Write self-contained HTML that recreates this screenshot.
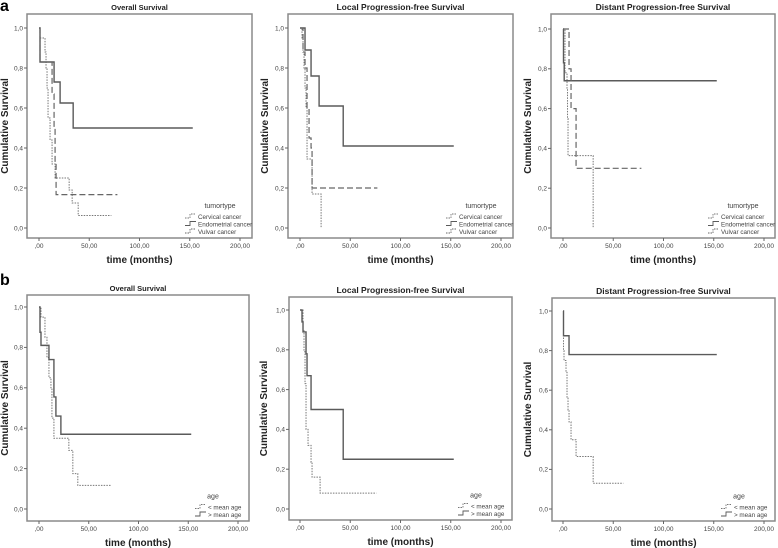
<!DOCTYPE html>
<html><head><meta charset="utf-8">
<style>
html,body{margin:0;padding:0;background:#fff;}
svg{display:block;font-family:"Liberation Sans",Arial,sans-serif;}
</style></head>
<body>
<svg id="fig" width="778" height="548" viewBox="0 0 778 548" xmlns="http://www.w3.org/2000/svg">
<text x="0" y="11" font-size="16" font-weight="bold">a</text>
<text x="0" y="285" font-size="16" font-weight="bold">b</text>
</svg>
<script>
const xTicks = [0, 50, 100, 150, 200];
const xTickLabels = [",00", "50,00", "100,00", "150,00", "200,00"];
const yTicks = [0, 0.2, 0.4, 0.6, 0.8, 1.0];
const yTickLabels = ["0,0", "0,2", "0,4", "0,6", "0,8", "1,0"];

const a1EndoT = [1, 15, 21, 34];
const a1EndoS = [0.83, 0.73, 0.625, 0.5];
const a1EndoEnd = 153;
const a1CervT = [1, 6, 7, 8, 9, 11, 13, 16, 30, 33, 39];
const a1CervS = [0.95, 0.88, 0.8, 0.7, 0.55, 0.44, 0.32, 0.25, 0.19, 0.125, 0.0625];
const a1CervEnd = 72;
const a1VulvT = [1, 13, 15, 16, 17];
const a1VulvS = [0.83, 0.67, 0.5, 0.33, 0.167];
const a1VulvEnd = 78;

const a2EndoT = [5, 11, 19, 43];
const a2EndoS = [0.89, 0.76, 0.61, 0.41];
const a2EndoEnd = 153;
const a2CervT = [2, 3, 4, 5, 6, 7, 12, 21];
const a2CervS = [0.95, 0.88, 0.8, 0.7, 0.6, 0.345, 0.17, 0.0];
const a2CervEnd = 21;
const a2VulvT = [3, 5, 7, 9, 11, 12];
const a2VulvS = [0.88, 0.8, 0.6, 0.45, 0.4, 0.2];
const a2VulvEnd = 77;

const a3EndoT = [0.5, 1.2];
const a3EndoS = [0.83, 0.74];
const a3EndoEnd = 153;
const a3CervT = [2, 4, 4.5, 5, 30];
const a3CervS = [0.78, 0.7, 0.55, 0.364, 0.0];
const a3CervEnd = 30;
const a3VulvT = [6, 8, 13];
const a3VulvS = [0.8, 0.6, 0.3];
const a3VulvEnd = 78;

const b1OldT = [1, 2, 10, 15, 17, 22];
const b1OldS = [0.875, 0.81, 0.74, 0.555, 0.46, 0.37];
const b1OldEnd = 153;
const b1YoungT = [2, 6, 8, 10, 12, 13, 15, 30, 34, 39];
const b1YoungS = [0.95, 0.85, 0.75, 0.65, 0.6, 0.45, 0.35, 0.29, 0.175, 0.117];
const b1YoungEnd = 72;

const b2OldT = [2, 3, 6, 7, 11, 43];
const b2OldS = [0.94, 0.89, 0.78, 0.67, 0.5, 0.25];
const b2OldEnd = 153;
const b2YoungT = [3, 4, 5, 6, 8, 11, 12, 20];
const b2YoungS = [0.9, 0.79, 0.63, 0.4, 0.32, 0.235, 0.16, 0.08];
const b2YoungEnd = 76;

const b3OldT = [0.5, 6];
const b3OldS = [0.875, 0.78];
const b3OldEnd = 153;
const b3YoungT = [0.5, 1, 3, 4, 5, 6, 8, 13, 30];
const b3YoungS = [0.8, 0.75, 0.69, 0.56, 0.5, 0.44, 0.35, 0.265, 0.13];
const b3YoungEnd = 60;

const tumorLegend = ["Cervical cancer", "Endometrial cancer", "Vulvar cancer"];
const ageLegend = ["< mean age", "> mean age"];

const NS = "http://www.w3.org/2000/svg";
const svg = document.getElementById("fig");
function mk(tag, attrs, parent) {
  const e = document.createElementNS(NS, tag);
  for (const k in attrs) e.setAttribute(k, attrs[k]);
  (parent || svg).appendChild(e);
  return e;
}
const STY = {
  solid: {stroke: "#5a5a5a", "stroke-width": 1.4},
  dashed: {stroke: "#666", "stroke-width": 1.2, "stroke-dasharray": "6,3"},
  dotted: {stroke: "#777", "stroke-width": 1, "stroke-dasharray": "1.5,1.2"}
};

function panel(cfg) {
  const g = mk("g", {});
  
  
  const xs = v => cfg.x0 + (cfg.x200 - cfg.x0) * v / 200;
  const ys = v => cfg.y0 + (cfg.y1 - cfg.y0) * v;
  const box = mk("rect", {x: cfg.L, y: cfg.T, width: cfg.R - cfg.L, height: cfg.B - cfg.T, fill: "none", stroke: "#8a8a8a", "stroke-width": 1.5}, g);
  
  
  const t = mk("text", {x: (cfg.L + cfg.R) / 2, y: cfg.T - 4, "font-size": cfg.tsize, "font-weight": "bold", "text-anchor": "middle", fill: "#222"}, g);
  t.textContent = cfg.title;
  
  
  xTicks.forEach((v, i) => {
    mk("line", {x1: xs(v), x2: xs(v), y1: cfg.B, y2: cfg.B + 3, stroke: "#666", "stroke-width": 1}, g);
    const lb = mk("text", {x: xs(v), y: cfg.B + 10, "font-size": 6.5, "text-anchor": "middle", fill: "#444"}, g);
    lb.textContent = xTickLabels[i];
    
    
  });
  yTicks.forEach((v, i) => {
    mk("line", {x1: cfg.L - 3, x2: cfg.L, y1: ys(v), y2: ys(v), stroke: "#666", "stroke-width": 1}, g);
    const lb = mk("text", {x: cfg.L - 4, y: ys(v) + 2.3, "font-size": 6.5, "text-anchor": "end", fill: "#444"}, g);
    lb.textContent = yTickLabels[i];
    
    
  });
  const xt = mk("text", {x: (cfg.L + cfg.R) / 2, y: cfg.B + 25, "font-size": 10, "font-weight": "bold", "text-anchor": "middle", fill: "#222"}, g);
  xt.textContent = "time (months)";
  
  
  const cy = (cfg.T + cfg.B) / 2;
  const yt = mk("text", {x: cfg.yx, y: cy, "font-size": 10, "font-weight": "bold", "text-anchor": "middle", fill: "#222", transform: "rotate(-90 " + cfg.yx + " " + cy + ")"}, g);
  yt.textContent = "Cumulative Survival";
  
  
  cfg.series.forEach(s => {
    let d = "M" + xs(0) + "," + ys(1);
    for (let i = 0; i < s.t.length; i++) {
      d += " H" + xs(s.t[i]) + " V" + ys(s.s[i]);
    }
    d += " H" + xs(s.end);
    const p = mk("path", Object.assign({d: d, fill: "none"}, STY[s.style]), g);
    
    
  });
  const n = cfg.legend.length;
  const lg = mk("g", {}, g);
  
  
  const tx = cfg.R - cfg.legTextOff;
  const baseY = cfg.B - 6 - (n - 1) * 7.5;
  const lt = mk("text", {x: cfg.R - cfg.legTitleOff, y: baseY - 9, "font-size": 7, "text-anchor": "middle", fill: "#444"}, lg);
  lt.textContent = cfg.legendTitle;
  
  
  cfg.legend.forEach((lab, i) => {
    const y = baseY + i * 7.5;
    const st = cfg.series[i].style;
    mk("path", Object.assign({d: "M" + (tx - 13) + "," + (y + 1) + " h5 v-4 h6", fill: "none"}, STY[st], {"stroke-width": 0.9, "stroke-dasharray": st === "solid" ? "none" : "1.5,1"}), lg);
    const e = mk("text", {x: tx, y: y + 2, "font-size": 6.3, fill: "#444"}, lg);
    e.textContent = lab;
    
    
  });
}

const topRow = {T: 14, B: 238, y1: 28, y0: 228};
panel(Object.assign({}, topRow, {name: "panel-a-overall-survival", title: "Overall Survival", tsize: 7.5,
  L: 27, R: 252, x0: 39, x200: 240, yx: 8, legendTitle: "tumortype", legend: tumorLegend, legTextOff: 54, legTitleOff: 32,
  series: [
    {name: "cervical-cancer-curve", t: a1CervT, s: a1CervS, end: a1CervEnd, style: "dotted"},
    {name: "endometrial-cancer-curve", t: a1EndoT, s: a1EndoS, end: a1EndoEnd, style: "solid"},
    {name: "vulvar-cancer-curve", t: a1VulvT, s: a1VulvS, end: a1VulvEnd, style: "dashed"}]}));
panel(Object.assign({}, topRow, {name: "panel-a-local-pfs", title: "Local Progression-free Survival", tsize: 8.5,
  L: 288, R: 513, x0: 300, x200: 501, yx: 268, legendTitle: "tumortype", legend: tumorLegend, legTextOff: 54, legTitleOff: 32,
  series: [
    {name: "cervical-cancer-curve", t: a2CervT, s: a2CervS, end: a2CervEnd, style: "dotted"},
    {name: "endometrial-cancer-curve", t: a2EndoT, s: a2EndoS, end: a2EndoEnd, style: "solid"},
    {name: "vulvar-cancer-curve", t: a2VulvT, s: a2VulvS, end: a2VulvEnd, style: "dashed"}]}));
panel(Object.assign({}, topRow, {name: "panel-a-distant-pfs", title: "Distant Progression-free Survival", tsize: 8.5,
  L: 551, R: 775, x0: 563, x200: 764, yx: 531, y1: 29, legendTitle: "tumortype", legend: tumorLegend, legTextOff: 54, legTitleOff: 32,
  series: [
    {name: "cervical-cancer-curve", t: a3CervT, s: a3CervS, end: a3CervEnd, style: "dotted"},
    {name: "endometrial-cancer-curve", t: a3EndoT, s: a3EndoS, end: a3EndoEnd, style: "solid"},
    {name: "vulvar-cancer-curve", t: a3VulvT, s: a3VulvS, end: a3VulvEnd, style: "dashed"}]}));

panel({name: "panel-b-overall-survival", title: "Overall Survival", tsize: 7.5,
  L: 27, R: 249, T: 295, B: 521, x0: 39, x200: 238, y1: 307, y0: 509, yx: 8, legendTitle: "age", legend: ageLegend, legTextOff: 41, legTitleOff: 36,
  series: [
    {name: "below-mean-age-curve", t: b1YoungT, s: b1YoungS, end: b1YoungEnd, style: "dotted"},
    {name: "above-mean-age-curve", t: b1OldT, s: b1OldS, end: b1OldEnd, style: "solid"}]});
panel({name: "panel-b-local-pfs", title: "Local Progression-free Survival", tsize: 8.5,
  L: 289, R: 512, T: 297, B: 520, x0: 300, x200: 501, y1: 310, y0: 509, yx: 267, legendTitle: "age", legend: ageLegend, legTextOff: 41, legTitleOff: 36,
  series: [
    {name: "below-mean-age-curve", t: b2YoungT, s: b2YoungS, end: b2YoungEnd, style: "dotted"},
    {name: "above-mean-age-curve", t: b2OldT, s: b2OldS, end: b2OldEnd, style: "solid"}]});
panel({name: "panel-b-distant-pfs", title: "Distant Progression-free Survival", tsize: 8.5,
  L: 552, R: 775, T: 298, B: 521, x0: 563, x200: 764, y1: 311, y0: 509, yx: 531, legendTitle: "age", legend: ageLegend, legTextOff: 41, legTitleOff: 36,
  series: [
    {name: "below-mean-age-curve", t: b3YoungT, s: b3YoungS, end: b3YoungEnd, style: "dotted"},
    {name: "above-mean-age-curve", t: b3OldT, s: b3OldS, end: b3OldEnd, style: "solid"}]});
</script>
</body></html>
